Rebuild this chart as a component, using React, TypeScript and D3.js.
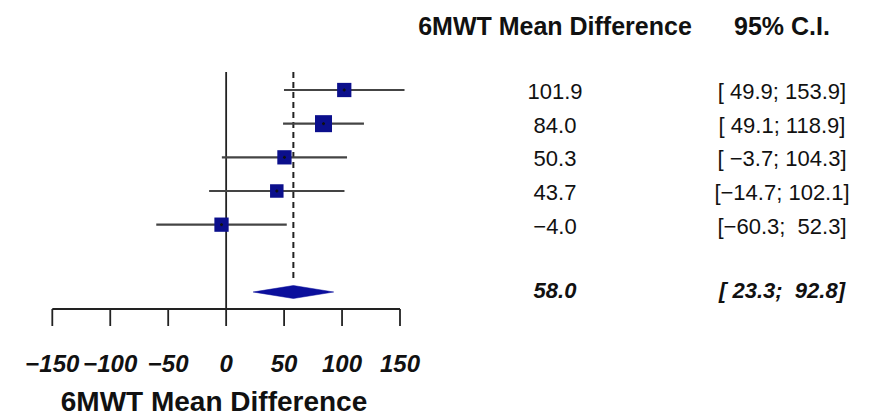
import React from 'react'
import * as d3 from 'd3'

const width = 881
const height = 419

// study rows (top to bottom)
const means = [101.9, 84.0, 50.3, 43.7, -4.0]
const lower = [49.9, 49.1, -3.7, -14.7, -60.3]
const upper = [153.9, 118.9, 104.3, 102.1, 52.3]
const weights = [19, 27, 19, 17, 19]
const meanLabels = ['101.9', '84.0', '50.3', '43.7', '\u22124.0']
const ciLabels = ['[ 49.9; 153.9]', '[ 49.1; 118.9]', '[ \u22123.7; 104.3]', '[\u221214.7; 102.1]', '[\u221260.3;  52.3]']

// pooled estimate
const pooled = { mean: 58.0, lower: 23.3, upper: 92.8, label: '58.0', ci: '[ 23.3;  92.8]' }

const ticks = [-150, -100, -50, 0, 50, 100, 150]
const tickLabels = ['\u2212150', '\u2212100', '\u221250', '0', '50', '100', '150']

const font = '"Liberation Sans", Arial, Helvetica, sans-serif'

const App = () => {
  const x = d3.scaleLinear().domain([-150, 150]).range([52.3, 400])

  // rows 0-4 studies, 5 blank, 6 pooled
  const y = d3.scaleLinear().domain([0, 6]).range([90, 292])

  const size = d3.scaleSqrt().domain([0, d3.max(weights) as number]).range([0, 17])

  const axisY = 309
  const topY = 72

  const diamond = d3.line<[number, number]>()([
    [x(pooled.lower), y(6)],
    [x(pooled.mean), y(6) - 6.5],
    [x(pooled.upper), y(6)],
    [x(pooled.mean), y(6) + 6.5],
  ]) + 'Z'

  return (
    <svg width={width} height={height} style={{ position: 'absolute', left: 0, top: 0, background: '#fff' }}
      fontFamily={font}>
      {/* zero line */}
      <line x1={x(0)} x2={x(0)} y1={topY} y2={axisY} stroke="#222" strokeWidth={1.8} />
      {/* pooled dashed line */}
      <line x1={x(pooled.mean)} x2={x(pooled.mean)} y1={topY} y2={282} stroke="#222"
        strokeWidth={2} strokeDasharray="6,4" />

      {means.map((m, i) => {
        const s = size(weights[i])
        return (
          <g key={i}>
            <line x1={x(lower[i])} x2={x(upper[i])} y1={y(i)} y2={y(i)} stroke="#444" strokeWidth={2.2} />
            <rect x={x(m) - s / 2} y={y(i) - s / 2} width={s} height={s} fill="#0b0f8c" />
            <line x1={x(m) - 1.5} x2={x(m) + 1.5} y1={y(i)} y2={y(i)} stroke="#111" strokeWidth={1.5} />
            <line x1={x(m)} x2={x(m)} y1={y(i) - 1.5} y2={y(i) + 1.5} stroke="#111" strokeWidth={1.5} />
            <text x={555} y={y(i) + 9} textAnchor="middle" fontSize={22} fill="#111">{meanLabels[i]}</text>
            <text x={782} y={y(i) + 9} textAnchor="middle" fontSize={22} fill="#111"
              style={{ whiteSpace: 'pre' }}>{ciLabels[i]}</text>
          </g>
        )
      })}

      <path d={diamond} fill="#0b0f9c" stroke="#0b0f9c" strokeWidth={0.5} />
      <text x={555} y={y(6) + 6} textAnchor="middle" fontSize={22} fontWeight="bold" fontStyle="italic"
        fill="#111">{pooled.label}</text>
      <text x={782} y={y(6) + 6} textAnchor="middle" fontSize={22} fontWeight="bold" fontStyle="italic"
        fill="#111" style={{ whiteSpace: 'pre' }}>{pooled.ci}</text>

      {/* axis */}
      <line x1={x(-150)} x2={x(150)} y1={axisY} y2={axisY} stroke="#222" strokeWidth={1.8} />
      {ticks.map((t, i) => (
        <g key={t}>
          <line x1={x(t)} x2={x(t)} y1={axisY} y2={axisY + 17} stroke="#222" strokeWidth={1.8} />
          <text x={x(t)} y={372} textAnchor="middle" fontSize={24} fontWeight="bold" fontStyle="italic"
            fill="#111">{tickLabels[i]}</text>
        </g>
      ))}
      <text x={214} y={411} textAnchor="middle" fontSize={28} fontWeight="bold" fill="#111">
        6MWT Mean Difference
      </text>

      {/* column headers */}
      <text x={555} y={35} textAnchor="middle" fontSize={25} fontWeight="bold" fill="#111">
        6MWT Mean Difference
      </text>
      <text x={782} y={35} textAnchor="middle" fontSize={25} fontWeight="bold" fill="#111">95% C.I.</text>
    </svg>
  )
}

export default App
